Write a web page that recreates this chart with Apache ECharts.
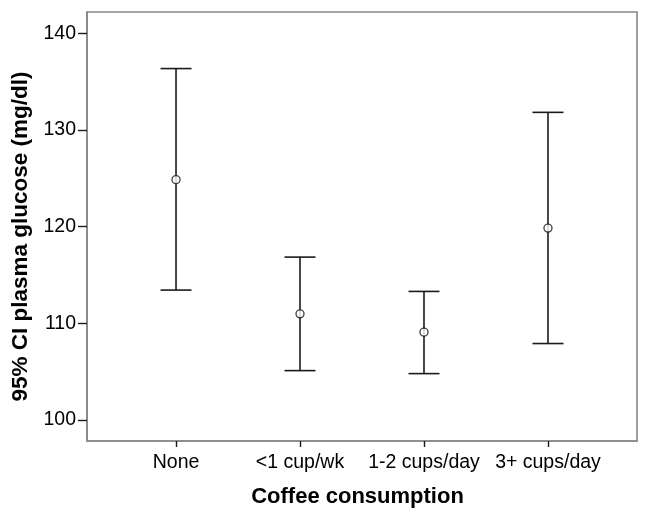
<!DOCTYPE html>
<html>
<head>
<meta charset="utf-8">
<script src="https://cdn.jsdelivr.net/npm/echarts@6/dist/echarts.min.js"></script>
<style>
html,body{margin:0;padding:0;background:#fff;}
#chart{width:650px;height:521px;}
</style>
</head>
<body>
<div id="chart"></div>
<script>
const categories = ['None', '<1 cup/wk', '1-2 cups/day', '3+ cups/day'];
const means = [124.86, 110.98, 109.09, 119.85];
const lower = [113.44, 105.11, 104.8, 107.91];
const upper = [136.35, 116.85, 113.3, 131.82];
const yTicks = [100, 110, 120, 130, 140];

const catIdx = categories.map((c, i) => i);
const errData = catIdx.map(i => [i, lower[i], upper[i]]);
const meanData = catIdx.map(i => [i, means[i]]);

const chart = echarts.init(document.getElementById('chart'));
const fontFam = '"Liberation Sans", Arial, sans-serif';
chart.setOption({
  animation: false,
  backgroundColor: '#fff',
  grid: { left: 87, right: 13, top: 12, bottom: 80, show: true, borderColor: '#888', borderWidth: 1.6 },
  xAxis: {
    type: 'value', min: -0.718, max: 3.718,
    name: 'Coffee consumption', nameLocation: 'middle', nameGap: 45,
    nameTextStyle: { fontFamily: fontFam, fontSize: 22, fontWeight: 'bold', color: '#000', padding: [0, 9, 0, 0] },
    axisLine: { show: true, onZero: false, lineStyle: { color: '#888', width: 1.6 } },
    axisTick: { show: true, customValues: catIdx, length: 6, lineStyle: { color: '#1a1a1a', width: 1.4 } },
    axisLabel: { customValues: catIdx, formatter: v => categories[Math.round(v)], fontFamily: fontFam, fontSize: 19.5, color: '#000', margin: 12 },
    splitLine: { show: false }
  },
  yAxis: {
    type: 'value', min: 97.83, max: 142.2,
    name: '95% CI plasma glucose (mg/dl)', nameLocation: 'middle', nameGap: 53,
    nameTextStyle: { fontFamily: fontFam, fontSize: 22.5, fontWeight: 'bold', color: '#000', padding: [0, 20, 0, 0] },
    axisLine: { show: true, onZero: false, lineStyle: { color: '#888', width: 1.6 } },
    axisTick: { show: true, customValues: yTicks, length: 9, lineStyle: { color: '#1a1a1a', width: 1.4 } },
    axisLabel: { customValues: yTicks, fontFamily: fontFam, fontSize: 19.5, color: '#000', margin: 11 },
    splitLine: { show: false }
  },
  series: [
    {
      type: 'custom',
      data: errData,
      renderItem: function (params, api) {
        const x = api.value(0);
        const lo = api.coord([x, api.value(1)]);
        const hi = api.coord([x, api.value(2)]);
        const hw = 15.5;
        const style = { stroke: '#1a1a1a', lineWidth: 1.6 };
        return {
          type: 'group',
          children: [
            { type: 'line', shape: { x1: lo[0], y1: lo[1], x2: hi[0], y2: hi[1] }, style: style },
            { type: 'line', shape: { x1: hi[0] - hw, y1: hi[1], x2: hi[0] + hw, y2: hi[1] }, style: style },
            { type: 'line', shape: { x1: lo[0] - hw, y1: lo[1], x2: lo[0] + hw, y2: lo[1] }, style: style }
          ]
        };
      },
      z: 2
    },
    {
      type: 'scatter',
      data: meanData,
      symbol: 'circle',
      symbolSize: 8,
      itemStyle: { color: '#fff', borderColor: '#1a1a1a', borderWidth: 1.4 },
      z: 3
    }
  ]
});
</script>
</body>
</html>
